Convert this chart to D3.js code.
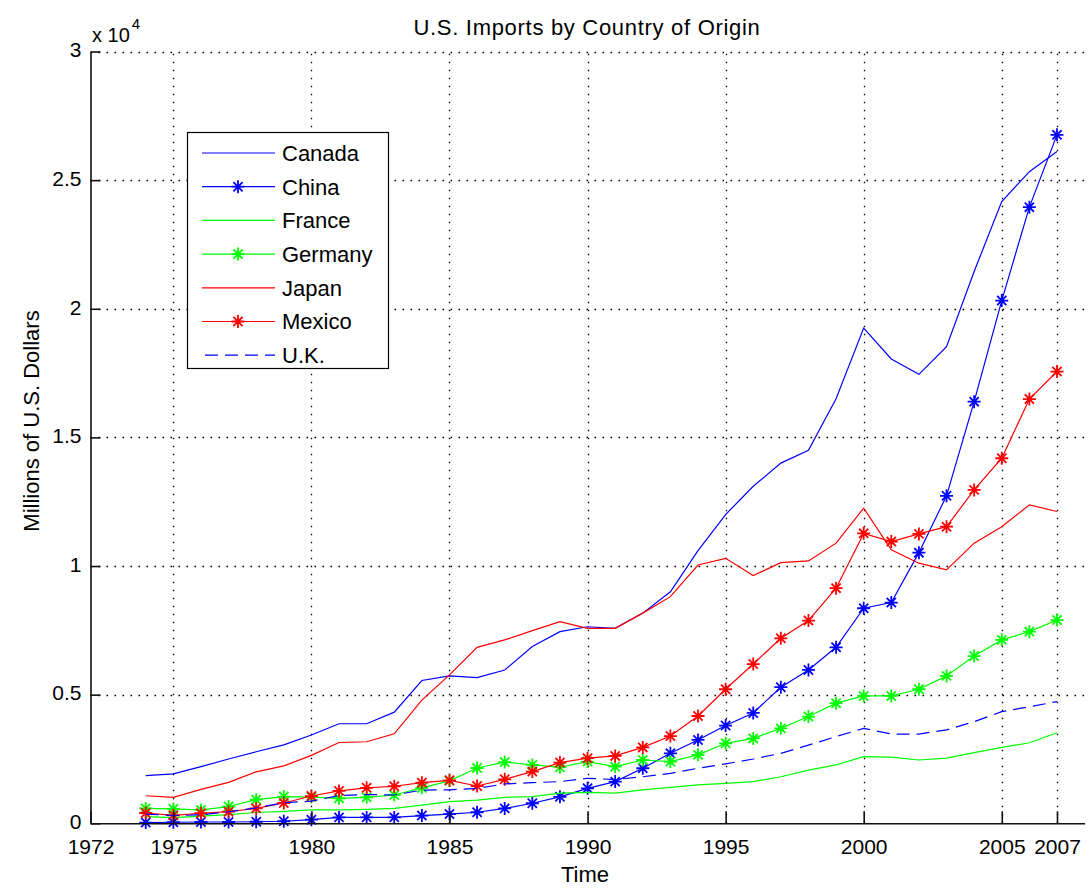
<!DOCTYPE html>
<html><head><meta charset="utf-8">
<script src="https://cdn.jsdelivr.net/npm/d3@7/dist/d3.min.js"></script>
<style>
body{margin:0;background:#fff}
text{font-family:"Liberation Sans",Arial,Helvetica,sans-serif;fill:#000}
</style>
</head><body>
<svg id="chart" width="1089" height="889"></svg>
<script>
// ---- data (millions of U.S. dollars) ----
const years = [1974,1975,1976,1977,1978,1979,1980,1981,1982,1983,1984,1985,1986,1987,1988,1989,1990,1991,1992,1993,1994,1995,1996,1997,1998,1999,2000,2001,2002,2003,2004,2005,2006,2007];
const canada  = [1850,1920,2200,2500,2780,3050,3430,3870,3870,4320,5550,5730,5660,5960,6870,7450,7640,7580,8170,9000,10600,12000,13100,14000,14500,16500,19250,18050,17450,18530,21450,24170,25330,26110];
const china   = [30,40,50,50,60,80,140,230,230,230,300,360,430,580,780,1030,1360,1620,2140,2720,3240,3800,4290,5290,5960,6840,8360,8580,10520,12730,16390,20320,23950,26760];
const france  = [260,220,280,340,420,460,520,520,540,580,710,840,900,1010,1040,1170,1200,1170,1300,1400,1490,1550,1620,1810,2070,2270,2590,2570,2460,2530,2750,2950,3130,3520];
const germany = [580,560,520,650,920,1040,1020,970,1010,1100,1380,1650,2150,2380,2270,2180,2400,2200,2460,2400,2660,3110,3300,3690,4150,4670,4950,4950,5210,5730,6500,7130,7450,7900];
const japan   = [1070,1010,1320,1590,2000,2230,2640,3140,3170,3480,4790,5770,6840,7130,7490,7840,7580,7580,8170,8810,10040,10300,9630,10130,10200,10890,12250,10630,10110,9850,10890,11530,12380,12120];
const mexico  = [400,310,390,450,580,790,1060,1260,1380,1440,1580,1670,1450,1710,2010,2360,2530,2620,2950,3390,4170,5210,6190,7190,7880,9140,11270,10950,11250,11530,12960,14190,16490,17560];
const uk      = [360,300,330,450,600,800,860,1080,1120,1100,1290,1300,1360,1530,1580,1620,1750,1700,1810,1940,2140,2310,2500,2720,3040,3370,3690,3470,3470,3630,3950,4340,4530,4730];
const seriesNames = ["Canada","China","France","Germany","Japan","Mexico","U.K."];
const seriesValues = [canada,china,france,germany,japan,mexico,uk];
const xTickValues = [1972,1975,1980,1985,1990,1995,2000,2005,2007];
const yTickValues = [0,5000,10000,15000,20000,25000,30000];
const yTickLabels = ["0","0.5","1","1.5","2","2.5","3"];
const titleText = "U.S. Imports by Country of Origin";
const xLabelText = "Time";
const yLabelText = "Millions of U.S. Dollars";

// ---- styles ----
const styles = [
  {color:"#0000ff", marker:false, dash:null},
  {color:"#0000ff", marker:true,  dash:null},
  {color:"#00ff00", marker:false, dash:null},
  {color:"#00ff00", marker:true,  dash:null},
  {color:"#ff0000", marker:false, dash:null},
  {color:"#ff0000", marker:true,  dash:null},
  {color:"#0000ff", marker:false, dash:"13,7"}
];

const svg = d3.select("#chart");
const x = d3.scaleLinear().domain([1972, 2008]).range([90.5, 1084.6]);
const y = d3.scaleLinear().domain([0, 30000]).range([823.3, 51.5]);

// gridlines
const grid = svg.append("g").attr("stroke","#000").attr("stroke-width",1.3).attr("stroke-dasharray","1.6,6.4");
grid.selectAll(".gx").data(xTickValues.filter(d => d !== 1972)).enter().append("line")
  .attr("x1", d => Math.round(x(d))+0.5).attr("x2", d => Math.round(x(d))+0.5)
  .attr("y1", y(0)).attr("y2", y(30000));
grid.selectAll(".gy").data(yTickValues.filter(d => d !== 0)).enter().append("line")
  .attr("y1", d => Math.round(y(d))+0.5).attr("y2", d => Math.round(y(d))+0.5)
  .attr("x1", x(1972)).attr("x2", x(2008));

// series lines
const line = d3.line().x((d,i) => x(years[i])).y(d => y(d));
const star = "M-6.5,0H6.5M0,-6.5V6.5M-4.6,-4.6L4.6,4.6M-4.6,4.6L4.6,-4.6";
seriesValues.forEach((vals, k) => {
  const st = styles[k];
  svg.append("path").datum(vals).attr("d", line)
    .attr("fill","none").attr("stroke", st.color).attr("stroke-width", 1.2)
    .attr("stroke-dasharray", st.dash);
  if (st.marker) {
    svg.append("g").selectAll("path").data(vals).enter().append("path")
      .attr("d", star).attr("transform", (d,i) => `translate(${x(years[i])},${y(d)})`)
      .attr("fill","none").attr("stroke", st.color).attr("stroke-width", 1.8);
  }
});

// axes
const xAxis = d3.axisBottom(x).tickValues(xTickValues).tickFormat(d3.format("d"))
  .tickSize(-12).tickSizeOuter(0).tickPadding(18);
const gx = svg.append("g").attr("transform", `translate(0,${y(0)})`).call(xAxis);
const yAxis = d3.axisLeft(y).tickValues(yTickValues).tickFormat((d,i) => yTickLabels[i])
  .tickSize(-10).tickSizeOuter(0).tickPadding(9);
const gy = svg.append("g").attr("transform", `translate(${x(1972)},0)`).call(yAxis);
[gx, gy].forEach(g => {
  g.select(".domain").attr("stroke","#111").attr("stroke-width",1.6);
  g.selectAll(".tick line").attr("stroke","#111").attr("stroke-width",1.6);
  g.selectAll(".tick text").attr("font-size",21).attr("font-family",'"Liberation Sans",Arial,sans-serif').attr("fill","#000");
});
gx.selectAll(".tick text").attr("dy","0.6em");
gy.selectAll(".tick text").attr("dy","0.25em");

// exponent label
const expo = svg.append("text").attr("x", 92).attr("y", 42).attr("font-size", 20);
expo.append("tspan").text("x 10");
expo.append("tspan").attr("font-size", 15).attr("dy", -13).attr("dx", 2).text("4");

// title & labels
svg.append("text").attr("x", 587).attr("y", 35).attr("text-anchor","middle")
  .attr("font-size", 22).attr("letter-spacing", 0.7).text(titleText);
svg.append("text").attr("x", 585).attr("y", 882).attr("text-anchor","middle")
  .attr("font-size", 22).text(xLabelText);
svg.append("text").attr("transform","translate(39,421) rotate(-90)").attr("text-anchor","middle")
  .attr("font-size", 22).text(yLabelText);

// legend
const lg = svg.append("g");
lg.append("rect").attr("x",187.5).attr("y",132.5).attr("width",201).attr("height",236)
  .attr("fill","#fff").attr("stroke","#000").attr("stroke-width",1.2);
seriesNames.forEach((name, k) => {
  const st = styles[k];
  const yy = 153 + k*33.7;
  lg.append("line").attr("x1", st.dash ? 205 : 202).attr("x2", 275).attr("y1", yy).attr("y2", yy)
    .attr("stroke", st.color).attr("stroke-width", 1.2).attr("stroke-dasharray", st.dash);
  if (st.marker) {
    lg.append("path").attr("d", star).attr("transform", `translate(238,${yy})`)
      .attr("fill","none").attr("stroke", st.color).attr("stroke-width", 1.8);
  }
  lg.append("text").attr("x", 282).attr("y", yy).attr("dy","0.36em").attr("font-size", 22).text(name);
});
</script>
</body></html>
